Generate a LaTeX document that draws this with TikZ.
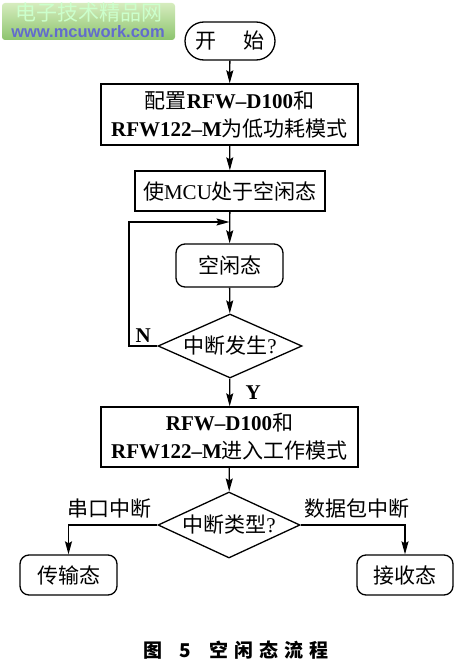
\documentclass[tikz,border=0pt]{standalone}
\usepackage{fontspec}
\setmainfont{Liberation Serif}
\newfontfamily\cjk{Noto Sans CJK SC}
\newfontfamily\marksans{Liberation Sans}
\usetikzlibrary{arrows.meta,shapes.geometric}
\newcommand\zh[1]{{\cjk #1}}
\definecolor{markgreen}{RGB}{140,196,110}
\definecolor{marklight}{RGB}{214,236,190}
\definecolor{markblue}{RGB}{98,108,204}

\begin{document}
\begin{tikzpicture}[x=1pt, y=-1pt, >={Stealth[length=13pt,width=7pt,inset=2pt]},
  txt/.style={font=\fontsize{21}{28}\selectfont},
  proc/.style={txt, draw, line width=1.3pt, align=center, inner sep=0pt},
  state/.style={proc, rounded corners=9pt},
  decide/.style={txt, draw, diamond, shape aspect=2.2, line width=1.3pt, inner sep=0pt},
  flow/.style={line width=1.3pt}]
\useasboundingbox (0,0) rectangle (469,669);

% watermark
\node [top color=marklight, bottom color=markgreen, rounded corners=3pt,
  minimum width=173pt, minimum height=37pt] (mark) at (88.5,21.5) {};
\node [text=white!80!green, font=\cjk\fontsize{21}{21}\selectfont] (markcn) at (89,13) {电子技术精品网};
\node [text=markblue, font=\marksans\bfseries\fontsize{16.5}{17}\selectfont] (markurl) at (88,32) {www.mcuwork.com};

\node [proc, rounded corners=19pt, minimum width=90pt, minimum height=38pt] (start) at (230,41)
  {\zh{开}\hspace{1.3em}\zh{始}};
\node [proc, minimum width=257pt, minimum height=61pt] (config) at (229.5,114.5)
  {\zh{配置}\textbf{RFW--D100}\zh{和}\\\textbf{RFW122--M}\zh{为低功耗模式}};
\node [proc, minimum width=190pt, minimum height=40pt] (mcu) at (230,191)
  {\zh{使}MCU\zh{处于空闲态}};
\node [state, minimum width=107pt, minimum height=43pt] (idle) at (229.5,265.5) {\zh{空闲态}};
\node [decide, minimum width=144pt, minimum height=64pt] (irq) at (230,346) {\zh{中断发生}?};
\node [proc, minimum width=257pt, minimum height=60pt] (work) at (229.5,437)
  {\textbf{RFW--D100}\zh{和}\\\textbf{RFW122--M}\zh{进入工作模式}};
\node [decide, minimum width=142pt, minimum height=66pt] (kind) at (229,525) {\zh{中断类型}?};
\node [state, minimum width=97pt, minimum height=40pt] (tx) at (68.5,575) {\zh{传输态}};
\node [state, minimum width=96pt, minimum height=40pt] (rx) at (405,575) {\zh{接收态}};

\coordinate (loop) at (129,222);
\coordinate (merge) at (229.5,222);

\draw [flow, ->] (start) -- (config);
\draw [flow, ->] (config) -- (mcu);
\draw [flow, ->] (mcu) -- (idle);
\draw [flow, ->] (idle) -- (irq);
\draw [flow, ->] (irq.west) -- node [txt, above, midway] {\textbf{N}} (irq.west -| loop) |- (merge);
\draw [flow, ->] (irq) -- node [txt, right=12pt, midway] {\textbf{Y}} (work);
\draw [flow, ->] (work) -- (kind);
\draw [flow, ->] (kind.west) -| node [txt, above=3pt, pos=0.27] {\zh{串口中断}} (tx.north);
\draw [flow, ->] (kind.east) -| node [txt, above=3pt, pos=0.27] {\zh{数据包中断}} (rx.north);

\node [font=\cjk\bfseries\fontsize{19}{19}\selectfont] (caption) at (236,650)
  {图\hspace{0.9em}5\hspace{1em}空\hspace{6pt}闲\hspace{6pt}态\hspace{6pt}流\hspace{6pt}程};
\end{tikzpicture}
\end{document}
